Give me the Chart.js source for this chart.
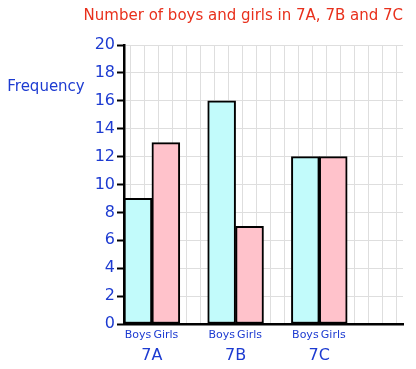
<!DOCTYPE html>
<html>
<head>
<meta charset="utf-8">
<script src="https://cdn.jsdelivr.net/npm/chart.js@4.4.1/dist/chart.umd.min.js"></script>
<style>
  html, body { margin: 0; padding: 0; background: #fff; }
  #wrap { width: 416px; height: 369px; }
</style>
</head>
<body>
<div id="wrap"><canvas id="chart"></canvas></div>
<script>
const classes = ['7A', '7B', '7C'];
const boys = [9, 16, 12];
const girls = [13, 7, 12];
const barNames = ['Boys', 'Girls'];
const yMax = 20;

const BLUE = '#1d3bd1';
const FONT = '"DejaVu Sans", sans-serif';

// each class takes two slots (boys, girls) plus one blank slot, then one extra blank at the end
var slots = [], boysData = [], girlsData = [];
classes.forEach(function (c, i) {
    slots.push(barNames[0], barNames[1], '');
    boysData.push(boys[i], null, null);
    girlsData.push(null, girls[i], null);
});
slots.push('');
boysData.push(null);
girlsData.push(null);

// each slot is 2 grid squares wide, the class label sits between its two bars
var classTicks = classes.map(function (c, i) { return { value: i * 6 + 2 }; });

const frequencyLabel = {
    id: 'frequencyLabel',
    afterDraw: function (chart) {
        const ctx = chart.ctx;
        const y = chart.scales.y.getPixelForValue(17);
        ctx.save();
        ctx.font = '15px ' + FONT;
        ctx.fillStyle = BLUE;
        ctx.textAlign = 'center';
        ctx.textBaseline = 'middle';
        ctx.fillText('Frequency', 46, y);
        ctx.restore();
    }
};

new Chart(document.getElementById('chart'), {
    type: 'bar',
    data: {
        labels: slots,
        datasets: [{
            label: 'Boys',
            data: boysData,
            backgroundColor: '#c2fbfb',
            borderColor: '#000',
            borderWidth: 2,
            borderSkipped: false,
            grouped: false,
            barPercentage: 1,
            categoryPercentage: 1
        }, {
            label: 'Girls',
            data: girlsData,
            backgroundColor: '#ffc2cb',
            borderColor: '#000',
            borderWidth: 2,
            borderSkipped: false,
            grouped: false,
            barPercentage: 1,
            categoryPercentage: 1
        }]
    },
    options: {
        responsive: true,
        maintainAspectRatio: false,
        animation: false,
        layout: { padding: { left: 0, right: 13, top: 0, bottom: 0 } },
        plugins: {
            legend: { display: false },
            tooltip: { enabled: false },
            title: {
                display: true,
                text: 'Number of boys and girls in 7A, 7B and 7C',
                color: '#e8301c',
                align: 'end',
                font: { family: FONT, size: 15, weight: 'normal' },
                padding: { top: 7, bottom: 20 }
            }
        },
        scales: {
            x: {
                type: 'category',
                position: 'bottom',
                grid: { display: false, drawTicks: false },
                border: { display: true, color: '#000', width: 2.5 },
                ticks: {
                    color: BLUE,
                    font: { family: FONT, size: 11 },
                    autoSkip: false,
                    maxRotation: 0,
                    padding: 5
                },
                afterFit: function (scale) { scale.height = 20; }
            },
            xClass: {
                type: 'linear',
                position: 'bottom',
                offset: false,
                min: 0,
                max: yMax,
                grid: { display: false, drawTicks: false },
                border: { display: false },
                afterBuildTicks: function (scale) { scale.ticks = classTicks.slice(); },
                ticks: {
                    color: BLUE,
                    font: { family: FONT, size: 16 },
                    padding: 2,
                    maxRotation: 0,
                    callback: function (v) {
                        var i = classTicks.findIndex(function (t) { return t.value === v; });
                        return i >= 0 ? classes[i] : '';
                    }
                },
                afterFit: function (scale) { scale.height = 25; }
            },
            xGrid: {
                type: 'linear',
                position: 'top',
                offset: false,
                min: 0,
                max: yMax,
                ticks: { display: false, stepSize: 1 },
                grid: { color: '#dedede', lineWidth: 1, drawTicks: false },
                border: { display: false }
            },
            y: {
                min: 0,
                max: yMax,
                ticks: {
                    stepSize: 1,
                    color: BLUE,
                    font: { family: FONT, size: 16 },
                    padding: 2,
                    callback: function (v) { return v % 2 === 0 ? v : ''; }
                },
                grid: {
                    color: '#dedede',
                    lineWidth: 1,
                    tickLength: 7,
                    tickWidth: 2,
                    tickColor: function (ctx) {
                        return ctx.tick && ctx.tick.value % 2 === 0 ? '#000' : 'rgba(0,0,0,0)';
                    }
                },
                border: { display: true, color: '#000', width: 2.5 },
                afterFit: function (scale) { scale.width = 124; }
            }
        }
    },
    plugins: [frequencyLabel]
});
</script>
</body>
</html>
